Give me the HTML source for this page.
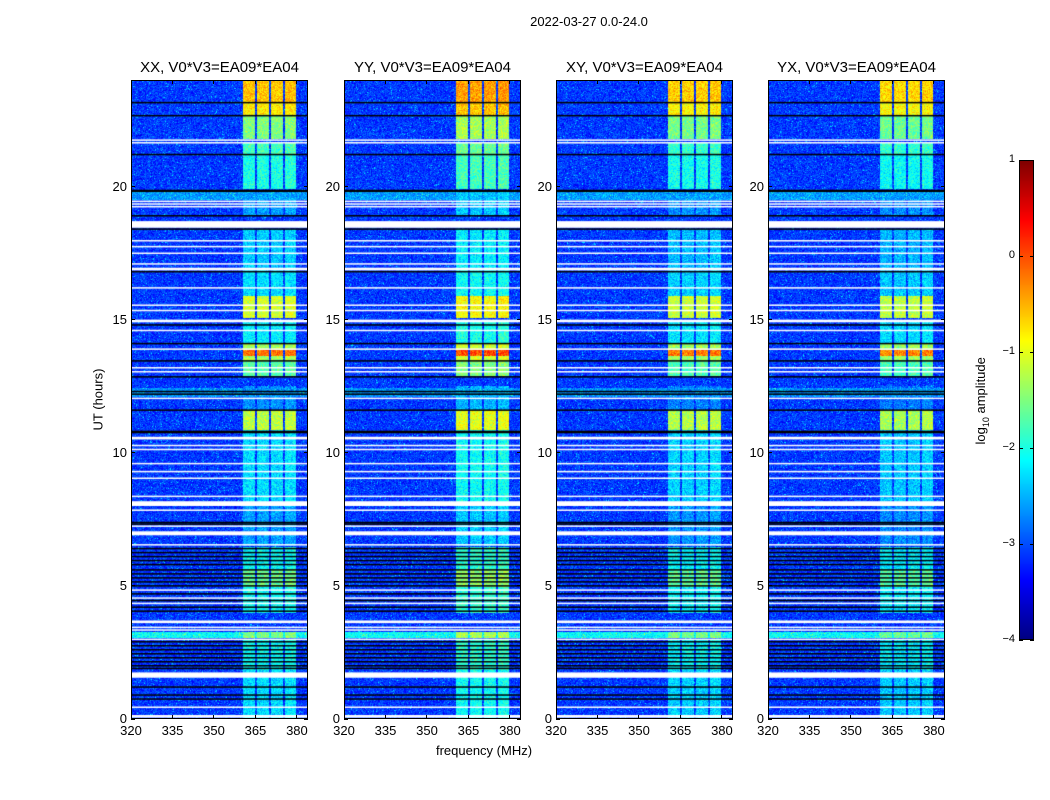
<!DOCTYPE html>
<html><head><meta charset="utf-8">
<style>
body{margin:0;background:#fff;font-family:"Liberation Sans",sans-serif;}
#root{position:relative;width:1050px;height:800px;overflow:hidden;background:#fff;}
.t{position:absolute;color:#000;white-space:nowrap;}
canvas{position:absolute;}
.frame{position:absolute;border:1px solid #000;box-sizing:border-box;}
.tick{position:absolute;background:#000;}
</style></head><body>
<div id="root">
<div class="t" style="left:489px;top:14px;width:200px;text-align:center;font-size:13px;">2022-03-27 0.0-24.0</div>
<div class="t" style="left:48px;top:392px;width:100px;text-align:center;font-size:13px;transform:rotate(-90deg);">UT (hours)</div>
<div class="t" style="left:384px;top:743px;width:200px;text-align:center;font-size:13px;">frequency (MHz)</div>
<div class="t" style="left:922px;top:392px;width:120px;text-align:center;font-size:13px;transform:rotate(-90deg);">log<sub style="font-size:9px">10</sub> amplitude</div>
</div>
<script>
// ---- data ----
const panelTitles = ["XX, V0*V3=EA09*EA04","YY, V0*V3=EA09*EA04","XY, V0*V3=EA09*EA04","YX, V0*V3=EA09*EA04"];
const panelOffsets = [0, 0.2, -0.05, -0.1];
const bands = [[360.4,364.8],[365.5,369.8],[370.5,374.8],[375.6,379.8]];
const bandGain = [0, 0, 0, 0.05];
// [hourStart, hourEnd, rfi log10 amplitude]
const rfiSegments = [[23.15,24,-0.6],[22.7,23.15,-0.8],[21.8,22.7,-1.5],[21.2,21.65,-1.8],[19.9,21.2,-2.0],
 [18.9,19.8,-2.6],[16.8,18.4,-2.4],[15.9,16.8,-2.3],[15.05,15.9,-1.1],[14.1,15.0,-2.2],[13.65,13.85,-0.2],
 [13.45,14.1,-1.3],[12.9,13.45,-1.7],[11.6,12.5,-2.7],[10.85,11.6,-1.2],[8.0,10.85,-2.3],[6.5,8.0,-2.6],
 [4.95,5.65,-1.6],[4.0,6.45,-2.1],[3.05,3.25,-1.5],[1.85,3.0,-2.1],[0,1.85,-2.3]];
// [hourStart, hourEnd, background log10 amplitude]
const bgSegments = [[19.5,19.8,-2.7],[12.1,12.45,-2.75],[3.05,3.25,-2.2]];
const whiteLines = [[21.73,21.77],[21.63,21.67],[19.43,19.47],[19.33,19.37],[19.23,19.27],[18.45,18.7],[17.95,17.99],[17.73,17.77],
 [17.48,17.52],[17.08,17.12],[16.85,16.95],[16.18,16.22],[15.53,15.57],[15.33,15.37],[14.9,15.0],[14.58,14.62],[13.88,13.92],
 [13.18,13.22],[13.03,13.07],[12.03,12.07],[10.5,10.6],[10.26,10.3],[10.11,10.15],[9.58,9.62],[9.28,9.32],[9.03,9.07],
 [8.35,8.39],[8.0,8.18],[7.83,7.87],[7.23,7.27],[6.9,7.05],[6.53,6.57],[4.83,4.87],[4.53,4.57],[4.33,4.37],[3.6,3.7],
 [3.43,3.47],[3.33,3.37],[2.98,3.02],[1.55,1.75],[0.43,0.47],[0.05,0.15]];
const blackLines = [23.15,22.66,21.2,19.85,19.82,18.9,18.4,16.8,14.8,14.1,13.45,12.85,12.3,12.2,11.6,10.8,10.76,7.38,7.32,
 6.4,6.25,6.1,5.95,5.8,5.6,5.45,5.3,5.15,5.0,4.7,4.45,4.2,4.05,2.9,2.75,2.6,2.45,2.3,2.15,2.0,1.9,1.2,0.9,0.75];
const xTicks = [320,335,350,365,380];
const yTicks = [0,5,10,15,20];
const cbTicks = [1,0,-1,-2,-3,-4];
// ---- layout ----
const panelLefts = [131,344,556,768], PT=80, PW=177, PH=639;
const F0=320, F1=384, H0=0, H1=24, VMIN=-4, VMAX=1;
const xs = f => (f-F0)/(F1-F0)*PW;
const ys = h => PH-(h-H0)/(H1-H0)*PH;
function jet(t){const c=v=>Math.max(0,Math.min(1,v));return [c(1.5-Math.abs(4*t-3)),c(1.5-Math.abs(4*t-2)),c(1.5-Math.abs(4*t-1))];}
function hash(x,y,s){let n=(x*374761393+y*668265263+s*982451653)|0;n=(n^(n>>>13))*1274126177|0;n=n^(n>>>16);return ((n>>>0)%10000)/10000;}
const root=document.getElementById('root');
function add(tag,cls,style,name){const e=document.createElement(tag);if(cls)e.className=cls;e.style.cssText=style;
 
 
 root.appendChild(e);return e;}
panelLefts.forEach((L,p)=>{
 const cv=add('canvas','', `left:${L}px;top:${PT}px;width:${PW}px;height:${PH}px;`, 'waterfall-'+p);
 cv.width=PW;cv.height=PH;const ctx=cv.getContext('2d');const img=ctx.createImageData(PW,PH);
 for(let y=0;y<PH;y++){const h=H1-(y+0.5)/PH*(H1-H0);
  let seg=null;for(const s of rfiSegments){if(h>=s[0]&&h<s[1]){seg=s;break;}}
  let bg=-3.55;for(const s of bgSegments){if(h>=s[0]&&h<s[1]){bg=s[2]-0.35;break;}}
  for(let x=0;x<PW;x++){const f=F0+(x+0.5)/PW*(F1-F0);
   const a=hash(x,y,p), b=hash(x+7,y*3,p+11);
   const tri=(a+b)/2;
   let v=bg+tri*0.9+(a>0.97?0.5:0);
   if(seg){bands.forEach((bd,i)=>{if(f>=bd[0]&&f<=bd[1]){const lv=seg[2]+panelOffsets[p]+bandGain[i]+(tri-0.5)*0.9;if(lv>v)v=lv;}});}
   const t=Math.max(0,Math.min(1,(v-VMIN)/(VMAX-VMIN)));const c=jet(t);const k=(y*PW+x)*4;
   img.data[k]=c[0]*255;img.data[k+1]=c[1]*255;img.data[k+2]=c[2]*255;img.data[k+3]=255;}}
 ctx.putImageData(img,0,0);
 ctx.fillStyle='#000';blackLines.forEach(h=>ctx.fillRect(0,ys(h)-0.75,PW,1.5));
 ctx.fillStyle='#fff';whiteLines.forEach(w=>{const y0=ys(w[1]),y1=ys(w[0]);ctx.fillRect(0,y0,PW,Math.max(1.5,y1-y0));});
 add('div','frame',`left:${L}px;top:${PT}px;width:${PW}px;height:${PH}px;`,'panel-frame-'+p);
 const tt=add('div','t',`left:${L-40}px;top:59px;width:${PW+80}px;text-align:center;font-size:15px;`,'panel-title-'+p);tt.textContent=panelTitles[p];
 xTicks.forEach(v=>{const x=L+xs(v);
  add('div','tick',`left:${x-0.5}px;top:${PT+PH-4}px;width:1px;height:4px;`,'x-tick');
  add('div','tick',`left:${x-0.5}px;top:${PT}px;width:1px;height:4px;`,'x-tick-top');
  const l=add('div','t',`left:${x-20}px;top:${PT+PH+4}px;width:40px;text-align:center;font-size:13px;`,'x-tick-label');l.textContent=v;});
 yTicks.forEach(v=>{const y=PT+ys(v);
  add('div','tick',`left:${L}px;top:${y-0.5}px;width:4px;height:1px;`,'y-tick');
  add('div','tick',`left:${L+PW-4}px;top:${y-0.5}px;width:4px;height:1px;`,'y-tick-right');
  const l=add('div','t',`left:${L-44}px;top:${y-8}px;width:40px;text-align:right;font-size:13px;`,'y-tick-label');l.textContent=v;});
});
// colorbar
const CBL=1019,CBT=160,CBW=15,CBH=480;
const cb=add('canvas','',`left:${CBL}px;top:${CBT}px;width:${CBW}px;height:${CBH}px;`,'colorbar');cb.width=CBW;cb.height=CBH;
const cctx=cb.getContext('2d');for(let y=0;y<CBH;y++){const c=jet(1-y/CBH);cctx.fillStyle=`rgb(${c[0]*255|0},${c[1]*255|0},${c[2]*255|0})`;cctx.fillRect(0,y,CBW,1);}
add('div','frame',`left:${CBL}px;top:${CBT}px;width:${CBW}px;height:${CBH}px;`,'colorbar-frame');
cbTicks.forEach(v=>{const y=CBT+(VMAX-v)/(VMAX-VMIN)*CBH;
 add('div','tick',`left:${CBL}px;top:${y-0.5}px;width:4px;height:1px;`,'colorbar-tick');
 add('div','tick',`left:${CBL+CBW-4}px;top:${y-0.5}px;width:4px;height:1px;`,'colorbar-tick-right');
 const l=add('div','t',`left:${CBL-44}px;top:${y-7}px;width:40px;text-align:right;font-size:11px;`,'colorbar-tick-label');l.textContent=(v<0?'\u2212'+(-v):v);});
</script>
</body></html>
